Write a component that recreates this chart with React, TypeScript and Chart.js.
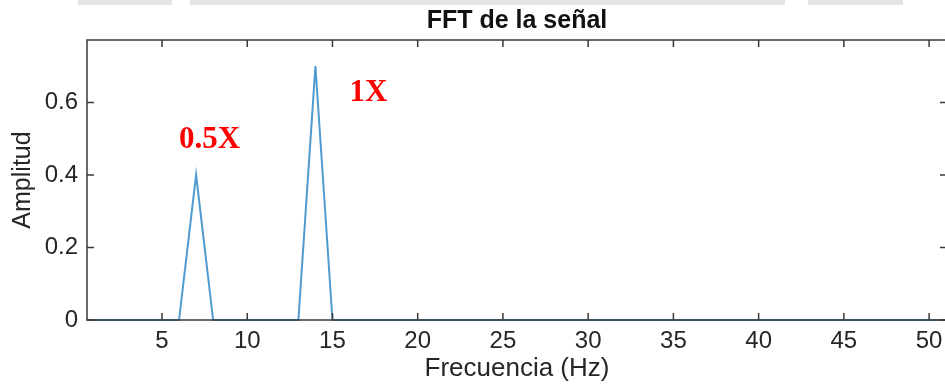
import React, { useEffect, useRef } from "react";
import { Chart, registerables } from "chart.js";

Chart.register(...registerables);

// ---- Data ----
const frequencies = [
  0, 1, 2, 3, 4, 5, 6, 7, 8, 9, 10, 11, 12, 13, 14, 15, 16, 17, 18, 19, 20,
  21, 22, 23, 24, 25, 26, 27, 28, 29, 30, 31, 32, 33, 34, 35, 36, 37, 38, 39,
  40, 41, 42, 43, 44, 45, 46, 47, 48, 49, 50, 51,
];
const amplitudes = [
  0, 0, 0, 0, 0, 0, 0, 0.4, 0, 0, 0, 0, 0, 0, 0.7, 0, 0, 0, 0, 0, 0,
  0, 0, 0, 0, 0, 0, 0, 0, 0, 0, 0, 0, 0, 0, 0, 0, 0, 0, 0,
  0, 0, 0, 0, 0, 0, 0, 0, 0, 0, 0, 0,
];
const xTicks = [5, 10, 15, 20, 25, 30, 35, 40, 45, 50];
const yTicks = [0, 0.2, 0.4, 0.6];
const xRange = [0.6, 51.05];
const yRange = [0, 0.772];
const annotationTexts = ["0.5X", "1X"];
const annotationX = [6, 16];
const annotationY = [0.474, 0.603];
const titleText = "FFT de la señal";
const xLabel = "Frecuencia (Hz)";
const yLabel = "Amplitud";

// ---- Styles ----
const SANS = '"Liberation Sans", Arial, Helvetica, sans-serif';
const SERIF = '"Liberation Serif", "Times New Roman", serif';
const TEXT = "#262626";
const LINE = "#4f9bd0";
const topBars = [
  { left: 78, width: 94 },
  { left: 190, width: 595 },
  { left: 808, width: 95 },
];

const framePlugin = {
  id: "frame",
  afterDatasetsDraw(chart: any) {
    const { ctx, chartArea: a, scales } = chart;
    ctx.save();
    ctx.strokeStyle = "#3a3a3a";
    ctx.lineWidth = 1.5;
    ctx.strokeRect(a.left, a.top, a.right - a.left, a.bottom - a.top);
    const tl = 7;
    ctx.beginPath();
    for (const t of xTicks) {
      const x = scales.x.getPixelForValue(t);
      ctx.moveTo(x, a.bottom);
      ctx.lineTo(x, a.bottom - tl);
      ctx.moveTo(x, a.top);
      ctx.lineTo(x, a.top + tl);
    }
    for (const t of yTicks) {
      const y = scales.y.getPixelForValue(t);
      ctx.moveTo(a.left, y);
      ctx.lineTo(a.left + tl, y);
      ctx.moveTo(a.right, y);
      ctx.lineTo(a.right - tl, y);
    }
    ctx.stroke();
    ctx.restore();
  },
};

const annotationPlugin = {
  id: "annot",
  afterDatasetsDraw(chart: any) {
    const { ctx, scales } = chart;
    ctx.save();
    ctx.font = `bold 31px ${SERIF}`;
    ctx.fillStyle = "#ff0000";
    ctx.textAlign = "left";
    ctx.textBaseline = "alphabetic";
    annotationTexts.forEach((t, i) => {
      ctx.fillText(
        t,
        scales.x.getPixelForValue(annotationX[i]),
        scales.y.getPixelForValue(annotationY[i])
      );
    });
    ctx.restore();
  },
};

export default function App() {
  const ref = useRef<HTMLCanvasElement | null>(null);

  useEffect(() => {
    if (!ref.current) return;
    const chart = new Chart(ref.current, {
      type: "line",
      data: {
        datasets: [
          {
            data: frequencies.map((f, i) => ({ x: f, y: amplitudes[i] })),
            borderColor: LINE,
            borderWidth: 2,
            pointRadius: 0,
            tension: 0,
            fill: false,
            clip: { left: 0, right: 0, top: 5, bottom: 5 } as any,
          },
        ],
      },
      options: {
        animation: false,
        responsive: false,
        devicePixelRatio: 1,
        layout: { padding: { left: 0, right: 13, top: 0, bottom: 0 } },
        plugins: {
          legend: { display: false },
          tooltip: { enabled: false },
          title: {
            display: true,
            text: titleText,
            fullSize: false,
            color: "#111",
            font: { family: SANS, size: 25, weight: "bold", lineHeight: 1.2 },
            padding: { top: 6, bottom: 4 },
          },
        },
        scales: {
          x: {
            type: "linear",
            min: xRange[0],
            max: xRange[1],
            afterBuildTicks: (s: any) => {
              s.ticks = xTicks.map((v) => ({ value: v }));
            },
            afterFit: (s: any) => {
              s.height = 72;
            },
            grid: { display: false, drawTicks: false },
            border: { display: false },
            ticks: {
              color: TEXT,
              font: { family: SANS, size: 24 },
              padding: 7,
              maxRotation: 0,
              autoSkip: false,
              callback: (v: any) => String(v),
            },
            title: {
              display: true,
              text: xLabel,
              color: TEXT,
              font: { family: SANS, size: 26, lineHeight: 1.2 },
              padding: { top: 0, bottom: 8 },
            },
          },
          y: {
            type: "linear",
            min: yRange[0],
            max: yRange[1],
            afterBuildTicks: (s: any) => {
              s.ticks = yTicks.map((v) => ({ value: v }));
            },
            afterFit: (s: any) => {
              s.width = 87;
            },
            grid: { display: false, drawTicks: false },
            border: { display: false },
            ticks: {
              color: TEXT,
              font: { family: SANS, size: 24 },
              padding: 9,
              autoSkip: false,
              callback: (v: any) => (v === 0 ? "0" : Number(v).toFixed(1)),
            },
            title: {
              display: true,
              text: yLabel,
              color: TEXT,
              font: { family: SANS, size: 25, lineHeight: 1.2 },
              padding: { top: 8, bottom: 0 },
            },
          },
        },
      },
      plugins: [framePlugin, annotationPlugin],
    } as any);
    return () => chart.destroy();
  }, []);

  return (
    <div
      style={{
        position: "absolute",
        top: 0,
        left: 0,
        width: 945,
        height: 392,
        overflow: "hidden",
        background: "#fff",
      }}
    >
      <canvas ref={ref} width={960} height={392} style={{ width: 960, height: 392, display: "block" }} />
      {topBars.map((b, i) => (
        <div
          key={i}
          style={{
            position: "absolute",
            top: 0,
            left: b.left,
            width: b.width,
            height: 5,
            background: "#e4e4e4",
          }}
        />
      ))}
    </div>
  );
}
